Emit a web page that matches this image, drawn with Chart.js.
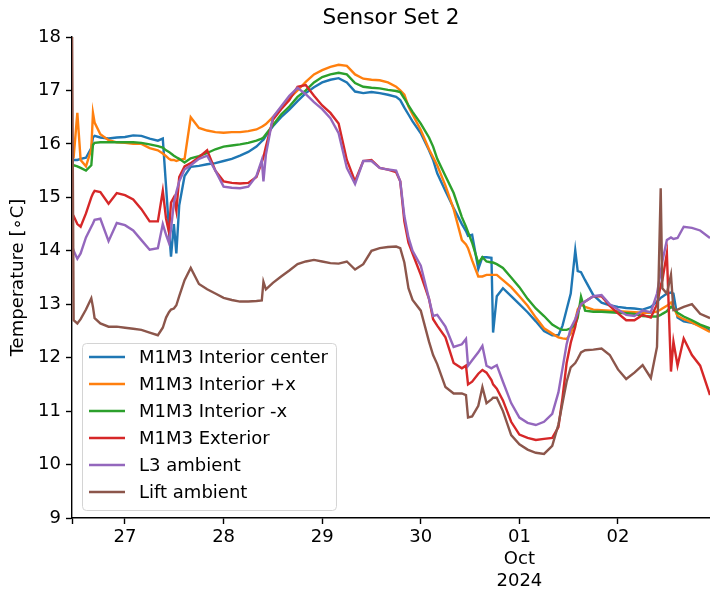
<!DOCTYPE html>
<html>
<head>
<meta charset="utf-8">
<title>Sensor Set 2</title>
<script src="https://cdn.jsdelivr.net/npm/chart.js@4.4.1/dist/chart.umd.min.js"></script>
<style>
  html, body { margin: 0; padding: 0; background: #fff; }
  #wrap { width: 710px; height: 591px; }
</style>
</head>
<body>
<div id="wrap"><canvas id="sensorChart" width="710" height="591"></canvas></div>
<script>
// Hours since 2024-09-26 00:00 (shared sample times for all sensors)
const hours = [
    11.1, 11.5, 12.4, 13.2, 14.5, 15.8, 16.2, 16.6, 18, 20,
    22, 24, 26, 28, 30, 32, 33.2, 34, 34.7, 35.2,
    35.9, 36.5, 37.2, 38.5, 40, 42, 44, 46, 48, 50,
    52, 54, 56, 57.3, 57.7, 58.3, 60, 62, 64, 66,
    68, 70, 72, 74, 76, 78, 80, 82, 84, 86,
    88, 90, 91, 92, 93, 94, 96, 98, 99, 100,
    102, 104, 106, 107, 107.5, 108.5, 110, 111, 112, 113.2,
    113.6, 114.5, 116, 118, 120, 122, 124, 126, 128, 129.5,
    130.5, 131.5, 132.5, 133.6, 134.2, 135, 136, 138, 140, 142,
    144, 146, 148, 150, 152, 153.5, 154.4, 154.8, 155.9, 156.9,
    157.5, 158.5, 160, 162, 164, 166.4
];

// Temperatures [°C]
const interiorCenter = [
    15.7, 15.7, 15.7, 15.72, 15.74, 15.92, 16.12, 16.15, 16.12, 16.1,
    16.12, 16.13, 16.16, 16.15, 16.1, 16.06, 16.1, 15.2, 14.4, 13.89,
    14.5, 13.95, 14.85, 15.4, 15.57, 15.59, 15.62, 15.64, 15.68, 15.72,
    15.78, 15.85, 15.95, 16.05, 16.08, 16.15, 16.33, 16.5, 16.64, 16.8,
    16.95, 17.06, 17.15, 17.2, 17.23, 17.15, 16.98, 16.95, 16.97, 16.95,
    16.92, 16.88, 16.82, 16.68, 16.55, 16.42, 16.2, 15.88, 15.7, 15.45,
    15.12, 14.8, 14.5, 14.37, 14.28, 14.3, 13.66, 13.88, 13.88, 13.87,
    12.47, 13.15, 13.3, 13.15, 13.0, 12.85, 12.68, 12.5, 12.42, 12.42,
    12.6, 12.9, 13.2, 14.01, 13.62, 13.6, 13.45, 13.17, 13.03, 12.98,
    12.95, 12.93, 12.92, 12.9, 12.95, 13.05, 13.12, 13.14, 13.2, 13.22,
    13.2, 12.75, 12.68, 12.65, 12.6, 12.5
];
const interiorPlusX = [
    15.7, 15.75, 16.58, 15.7, 15.58, 15.9, 16.58, 16.4, 16.18, 16.07,
    16.03, 16.02, 16.0, 16.0, 15.92, 15.88, 15.82, 15.77, 15.72, 15.7,
    15.7, 15.68, 15.7, 15.72, 16.5, 16.3, 16.25, 16.22, 16.21, 16.22,
    16.22, 16.24, 16.27, 16.32, 16.34, 16.37, 16.5, 16.68, 16.85, 17.0,
    17.16, 17.3, 17.38, 17.44, 17.48, 17.46, 17.3, 17.22, 17.2, 17.19,
    17.15, 17.07, 17.0, 16.92, 16.7, 16.55, 16.26, 15.9, 15.75, 15.6,
    15.22, 14.78, 14.2, 14.12, 14.05, 13.82, 13.52, 13.52, 13.55, 13.55,
    13.55, 13.55, 13.45, 13.32, 13.15, 12.97, 12.75, 12.55, 12.45, 12.38,
    12.36, 12.35, 12.45, 12.7, 12.9, 13.0, 12.95, 12.9, 12.89, 12.88,
    12.87, 12.86, 12.85, 12.84, 12.84, 12.86, 12.9, 12.92, 12.97, 13.03,
    12.95, 12.78, 12.72, 12.66, 12.58, 12.48
];
const interiorMinusX = [
    15.6, 15.6, 15.58, 15.55, 15.5, 15.6, 15.98, 16.02, 16.03, 16.03,
    16.03, 16.03, 16.03, 16.02, 15.99, 15.96, 15.93, 15.88, 15.85, 15.82,
    15.78, 15.75, 15.72, 15.65, 15.73, 15.77, 15.83, 15.9, 15.95, 15.97,
    15.99, 16.02, 16.06, 16.1, 16.12, 16.18, 16.35, 16.55, 16.7, 16.88,
    17.0, 17.15, 17.25, 17.3, 17.33, 17.3, 17.14, 17.07, 17.05, 17.04,
    17.01, 16.99, 16.97, 16.85, 16.72, 16.6, 16.38, 16.12, 15.95, 15.72,
    15.4, 15.08, 14.63, 14.45, 14.35, 14.15, 13.77, 13.88, 13.8, 13.78,
    13.78, 13.75, 13.68, 13.5, 13.32, 13.1, 12.92, 12.78, 12.62, 12.55,
    12.52, 12.52, 12.55, 12.62, 12.75, 13.14, 12.88, 12.86, 12.86, 12.85,
    12.84, 12.83, 12.82, 12.78, 12.77, 12.77, 12.8, 12.82, 12.87, 12.95,
    12.92, 12.84, 12.77, 12.7, 12.62, 12.55
];
const exterior = [
    14.7, 14.65, 14.5, 14.45, 14.7, 15.0, 15.07, 15.12, 15.1, 14.88,
    15.08, 15.04, 14.96, 14.78, 14.55, 14.55, 15.12, 14.6, 14.35, 14.9,
    15.0, 14.75, 15.38, 15.58, 15.64, 15.75, 15.88, 15.5, 15.3, 15.27,
    15.26, 15.27, 15.38, 15.66, 15.75, 15.95, 16.45, 16.65, 16.82, 17.07,
    17.1, 16.9, 16.72, 16.58, 16.38, 15.7, 15.3, 15.68, 15.7, 15.55,
    15.52, 15.47, 15.3, 14.55, 14.15, 13.95, 13.55, 13.1, 12.72, 12.6,
    12.38, 11.9, 11.8, 11.85, 11.5, 11.55, 11.7, 11.77, 11.72, 11.58,
    11.5, 11.42, 11.2, 10.8, 10.56, 10.5, 10.46, 10.48, 10.5, 10.7,
    11.25, 11.9, 12.28, 12.58, 12.85, 13.0, 13.05, 13.15, 13.15, 12.97,
    12.83, 12.7, 12.7, 12.8, 12.75, 13.0, 13.35, 13.45, 13.95, 11.74,
    12.3, 11.85, 12.36, 12.05, 11.85, 11.3
];
const l3Ambient = [
    14.1, 14.0, 13.85, 13.95, 14.25, 14.45, 14.51, 14.58, 14.6, 14.18,
    14.52, 14.48, 14.38, 14.2, 14.02, 14.05, 14.5, 14.3, 14.15, 14.4,
    14.9, 15.1, 15.3, 15.52, 15.6, 15.72, 15.78, 15.5, 15.2, 15.18,
    15.17, 15.2, 15.4, 15.7, 15.3, 15.8, 16.5, 16.7, 16.9, 17.05,
    16.93, 16.78, 16.65, 16.48, 16.2, 15.55, 15.25, 15.68, 15.68, 15.55,
    15.52, 15.5, 15.3, 14.65, 14.25, 14.0, 13.72, 13.1, 12.78, 12.8,
    12.58, 12.2, 12.25, 12.35, 11.85, 11.95, 12.1, 12.22, 11.85, 11.8,
    11.82, 11.86, 11.55, 11.15, 10.88, 10.78, 10.74, 10.8, 10.95, 11.35,
    11.8, 12.25, 12.55, 12.72, 12.85, 13.0, 13.05, 13.15, 13.17, 13.0,
    12.9, 12.8, 12.78, 12.88, 12.85, 13.2, 13.6, 13.8, 14.2, 14.25,
    14.22, 14.24, 14.45, 14.43, 14.38, 14.24
];
const liftAmbient = [
    18.4, 12.7, 12.64, 12.72, 12.9, 13.11, 12.95, 12.74, 12.64, 12.58,
    12.58, 12.56, 12.54, 12.52, 12.47, 12.42, 12.56, 12.75, 12.85, 12.9,
    12.92, 12.98, 13.15, 13.45, 13.68, 13.38, 13.28, 13.2, 13.12, 13.08,
    13.05, 13.05, 13.06, 13.07, 13.42, 13.28, 13.4, 13.52, 13.63, 13.75,
    13.8, 13.83, 13.8, 13.77, 13.76, 13.8, 13.65, 13.75, 14.0, 14.05,
    14.07, 14.08, 14.05, 13.78, 13.3, 13.08, 12.88, 12.3, 12.05, 11.88,
    11.45, 11.33, 11.33, 11.3, 10.88, 10.9, 11.1, 11.45, 11.15, 11.22,
    11.25, 11.25, 11.0, 10.55, 10.38, 10.28, 10.22, 10.2, 10.35, 10.75,
    11.15, 11.55, 11.82, 11.9, 11.98, 12.1, 12.14, 12.15, 12.17, 12.05,
    11.78, 11.6, 11.72, 11.86, 11.62, 12.2, 15.17, 13.3, 13.2, 13.55,
    12.89, 12.9, 12.95, 13.0, 12.82, 12.74
];

const seriesLabels = ['M1M3 Interior center', 'M1M3 Interior +x', 'M1M3 Interior -x',
    'M1M3 Exterior', 'L3 ambient', 'Lift ambient'];
const seriesValues = [interiorCenter, interiorPlusX, interiorMinusX, exterior, l3Ambient, liftAmbient];
const seriesColors = ['#1f77b4', '#ff7f0e', '#2ca02c', '#d62728', '#9467bd', '#8c564b'];

// x tick positions (hours) and their labels
const dayTicks = [24, 48, 72, 96, 120, 144];
const dayLabels = ['27', '28', '29', '30', ['01', 'Oct', '2024'], '02'];

const FONT = '"DejaVu Sans", "Liberation Sans", sans-serif';
Chart.defaults.font.family = FONT;
Chart.defaults.color = '#000';

// matplotlib style legend drawn inside the axes, lower left
const insideLegend = {
    id: 'insideLegend',
    afterDatasetsDraw(chart) {
        const {ctx, chartArea} = chart;
        const sets = chart.data.datasets;
        ctx.save();
        ctx.font = '18px ' + FONT;
        let textW = 0;
        sets.forEach(ds => { textW = Math.max(textW, ctx.measureText(ds.label).width); });
        const rowH = 27;
        const left = chartArea.left + 10;
        const bottom = chartArea.bottom - 8;
        const width = 7 + 36 + 14 + textW + 8;
        const height = 14 + (sets.length - 1) * rowH + 18;
        const top = bottom - height;

        ctx.beginPath();
        ctx.roundRect(left + 0.5, top + 0.5, width, height, 4);
        ctx.fillStyle = 'rgba(255,255,255,0.8)';
        ctx.fill();
        ctx.strokeStyle = '#d4d4d4';
        ctx.lineWidth = 1;
        ctx.stroke();

        ctx.textBaseline = 'middle';
        ctx.textAlign = 'left';
        sets.forEach((ds, i) => {
            const y = top + 14 + i * rowH;
            ctx.beginPath();
            ctx.moveTo(left + 7, y);
            ctx.lineTo(left + 43, y);
            ctx.strokeStyle = ds.borderColor;
            ctx.lineWidth = 2.4;
            ctx.stroke();
            ctx.fillStyle = '#000';
            ctx.fillText(ds.label, left + 57, y + 1);
        });
        ctx.restore();
    }
};

const datasets = seriesLabels.map((label, i) => ({
    label: label,
    data: hours.map((h, j) => ({x: h, y: seriesValues[i][j]})),
    borderColor: seriesColors[i],
    backgroundColor: seriesColors[i],
    borderWidth: 2.4,
    pointRadius: 0,
    tension: 0,
    fill: false,
    clip: 0,
    order: seriesLabels.length - i  // later series drawn on top, like matplotlib
}));

new Chart(document.getElementById('sensorChart'), {
    type: 'line',
    data: {datasets: datasets},
    options: {
        responsive: false,
        animation: false,
        devicePixelRatio: 1,
        layout: {padding: 0},
        plugins: {
            legend: {display: false},
            tooltip: {enabled: false},
            title: {
                display: true,
                text: 'Sensor Set 2',
                fullSize: false,
                color: '#000',
                font: {size: 21.6, weight: 'normal', family: FONT, lineHeight: 1.2},
                padding: {top: 5, bottom: 6.1}
            }
        },
        scales: {
            x: {
                type: 'linear',
                min: 11.1,
                max: 166.4,
                afterBuildTicks: (scale) => {
                    scale.ticks = [{value: 11.1}].concat(dayTicks.map(v => ({value: v})));
                },
                afterFit: (scale) => { scale.height = 73; },
                ticks: {
                    autoSkip: false,
                    maxRotation: 0,
                    padding: 3,
                    font: {size: 18, family: FONT},
                    color: '#000',
                    callback: (value) => {
                        const k = dayTicks.indexOf(value);
                        return k >= 0 ? dayLabels[k] : '';
                    }
                },
                grid: {drawOnChartArea: false, drawTicks: true, tickLength: 6, tickWidth: 1.4, tickColor: '#000'},
                border: {display: true, color: '#000', width: 1.4}
            },
            y: {
                min: 9,
                max: 18,
                afterFit: (scale) => { scale.width = 72; },
                ticks: {stepSize: 1, padding: 5, font: {size: 18, family: FONT}, color: '#000'},
                title: {
                    display: true,
                    text: 'Temperature [∘C]',
                    color: '#000',
                    font: {size: 18, family: FONT},
                    padding: {top: 8, bottom: 0}
                },
                grid: {drawOnChartArea: false, drawTicks: true, tickLength: 6, tickWidth: 1.4, tickColor: '#000'},
                border: {display: true, color: '#000', width: 1.4}
            }
        }
    },
    plugins: [insideLegend]
});
</script>
</body>
</html>
